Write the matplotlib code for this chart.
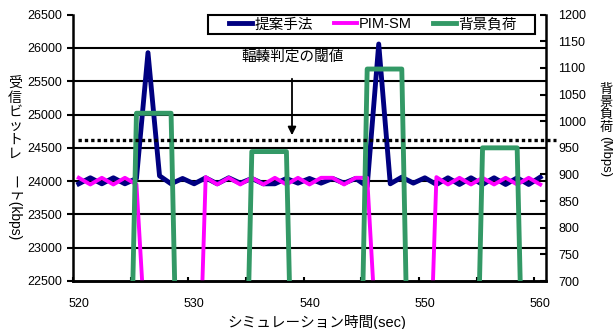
import matplotlib
matplotlib.use("Agg")
import matplotlib.pyplot as plt
from matplotlib.patches import Rectangle
import numpy as np

plt.rcParams['font.family'] = ['Liberation Sans', 'Noto Sans CJK JP', 'DejaVu Sans']

seconds = list(range(520, 561))
proposed = [23960, 24050, 23960, 24050, 23960, 24040, 25930, 24080, 23960, 24040,
            23960, 24050, 23960, 24050, 23970, 24040, 23960, 23960, 24040, 23970,
            24040, 23970, 24040, 23970, 24040, 23920, 26060, 23960, 24060, 23970,
            24050, 23950, 24050, 23950, 24050, 23950, 24050, 23950, 24050, 23950,
            24060]
pimsm = [24050, 23950, 24050, 23950, 24050, 23950, 21000, 20000, 19500, 19000,
         18500, 24060, 23950, 24050, 23950, 24050, 23950, 24050, 23950, 24050,
         23950, 24050, 24050, 23950, 24050, 24050, 21000, 20000, 19500, 19000,
         18800, 24060, 23950, 24050, 23950, 24050, 23950, 24050, 23950, 24050,
         23950]
background = [0, 0, 0, 0, 0, 1015, 1015, 1015, 1015, 0,
              0, 0, 0, 0, 0, 943, 943, 943, 943, 0,
              0, 0, 0, 0, 0, 1098, 1098, 1098, 1098, 0,
              0, 0, 0, 0, 0, 950, 950, 950, 950, 0,
              0]
threshold = 965
xtick_labels = [520, 530, 540, 550, 560]
series_names = ['提案手法', 'PIM-SM', '背景負荷']

W, H = 613, 329
fig = plt.figure(figsize=(W / 100, H / 100), dpi=100)
L, R, T, B = 73, 546, 14.7, 281
ax = fig.add_axes([L / W, 1 - B / H, (R - L) / W, (B - T) / H])
ax2 = ax.twinx()

ax.set_xlim(519.5, 560.5)
ax.set_ylim(22500, 26500)
ax2.set_ylim(700, 1200)

# gridlines
for v in np.arange(23000, 26500, 500):
    ax.axhline(v, color='black', lw=1.5, zorder=1)

l1, = ax.plot(seconds, proposed, color='#000080', lw=3.5, zorder=3)
l2, = ax.plot(seconds, pimsm, color='#FF00FF', lw=2.8, zorder=4)
l3, = ax2.plot(seconds, background, color='#339966', lw=3.5, zorder=5)
ax2.patch.set_visible(False)

# threshold dotted line
ax2.plot([519.9, 561.4], [threshold, threshold], color='black', lw=2.4,
         linestyle=(0, (1.0, 0.9)), clip_on=False, zorder=6)

# spines
ax.spines['top'].set_visible(False)
ax2.spines['top'].set_visible(False)
ax2.spines['left'].set_visible(False)
ax.spines['right'].set_visible(False)
for a in (ax, ax2):
    for sp in a.spines.values():
        sp.set_linewidth(1.8)
        sp.set_color('black')

ax.set_yticks(np.arange(22500, 26501, 500))
ax.tick_params(axis='y', direction='out', length=4, width=1.5, labelsize=9, pad=4)
ax2.set_yticks(np.arange(700, 1201, 50))
ax2.tick_params(axis='y', direction='in', length=4, width=1.5, labelsize=9, pad=9)

ax.set_xticks(xtick_labels)
ax.set_xticklabels([str(v) for v in xtick_labels])
ax.set_xticks(np.arange(519.5, 561, 5), minor=True)
ax.tick_params(axis='x', which='major', length=0, labelsize=9, pad=12)
ax.tick_params(axis='x', which='minor', direction='in', length=3, width=1.5)
ax2.tick_params(axis='x', which='both', length=0)

# x label
fig.text(317 / W, 1 - 322 / H, 'シミュレーション時間(sec)', ha='center', va='center', fontsize=10.5)

# left y label (vertical mixed)
for i, ch in enumerate('受信ビットレ'):
    fig.text(15 / W, 1 - (84 + i * 14) / H, ch, ha='center', va='center', fontsize=10,
             family=['Noto Sans CJK JP'], rotation=0)
fig.text(14 / W, 1 - 208 / H, 'ート(kbps)', ha='center', va='center', rotation=270, fontsize=10)

# right y label
for i, ch in enumerate('背景負荷'):
    fig.text(606 / W, 1 - (90 + i * 12.5) / H, ch, ha='center', va='center', fontsize=9.5,
             family=['Noto Sans CJK JP'], rotation=0)
fig.text(605 / W, 1 - 157 / H, '(Mbps)', ha='center', va='center', rotation=270, fontsize=9.5)

# annotation
fig.text(293 / W, 1 - 57 / H, '輻輳判定の閾値', ha='center', va='center', fontsize=10.5)
ax.annotate('', xy=(292, H - 138), xytext=(292, H - 76), xycoords='figure pixels',
            textcoords='figure pixels',
            arrowprops=dict(arrowstyle='-|>', lw=1.3, color='black', mutation_scale=12))

# legend box + legend
box = Rectangle((208 / W, 1 - 34 / H), (535 - 208) / W, 19 / H, transform=fig.transFigure,
                facecolor='white', edgecolor='black', lw=1.5, zorder=20)
fig.patches.append(box)
leg = fig.legend([l1, l2, l3], series_names, ncol=3, loc='center',
                 bbox_to_anchor=(373 / W, 1 - 24.5 / H), frameon=False,
                 fontsize=10.5, handlelength=1.58, handletextpad=0.15, columnspacing=1.45,
                 borderpad=0.0, borderaxespad=0.0)
leg.set_zorder(21)

fig.savefig('out.png', dpi=100)
